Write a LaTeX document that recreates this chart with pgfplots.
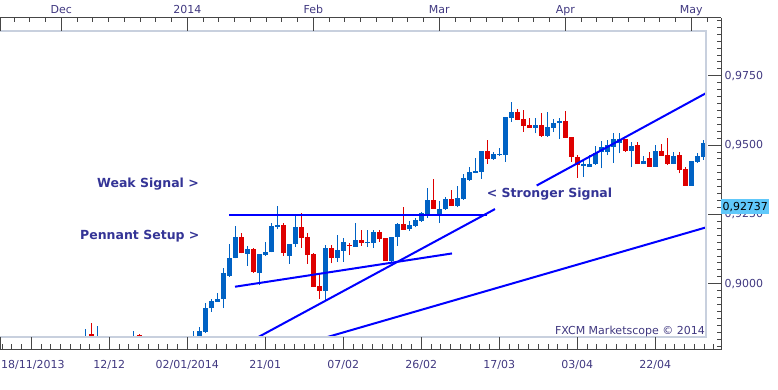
\documentclass[border=0pt]{standalone}
\usepackage{pgfplots}
\usepackage{pgfplotstable}
\pgfplotsset{compat=1.18}
\usepackage{fontspec}
\setmainfont{DejaVu Sans}
\definecolor{cblue}{RGB}{0,98,196}
\definecolor{cred}{RGB}{222,0,0}
\definecolor{tline}{RGB}{0,0,255}
\definecolor{framecol}{RGB}{200,208,222}
\definecolor{axcol}{RGB}{70,70,70}
\definecolor{labcol}{RGB}{64,56,128}
\definecolor{anncol}{RGB}{52,52,150}
\definecolor{hlcol}{RGB}{96,200,250}

% x = trading-day index (0 = 18/11/2013), o h l c = open high low close
\pgfplotstableread{
x o h l c
14 0.8779 0.8836 0.8761 0.8797
16 0.8775 0.8847 0.8761 0.8797
22 0.8793 0.8829 0.8775 0.8812
32 0.8786 0.8830 0.8768 0.8806
33 0.8797 0.8845 0.8782 0.8829
34 0.8827 0.8931 0.8823 0.8913
35 0.8911 0.8944 0.8899 0.8938
36 0.8935 0.8967 0.8935 0.8946
37 0.8944 0.9057 0.8912 0.9039
38 0.9029 0.9142 0.9025 0.9092
39 0.9093 0.9208 0.9091 0.9168
41 0.9107 0.9136 0.9064 0.9125
43 0.9037 0.9108 0.8995 0.9107
44 0.9103 0.9150 0.9101 0.9114
45 0.9113 0.9217 0.9113 0.9209
46 0.9206 0.9280 0.9196 0.9212
48 0.9101 0.9143 0.9071 0.9143
49 0.9143 0.9248 0.9133 0.9204
54 0.8975 0.9138 0.8941 0.9128
56 0.9094 0.9174 0.9079 0.9121
57 0.9118 0.9165 0.9079 0.9150
59 0.9133 0.9220 0.9133 0.9158
61 0.9148 0.9194 0.9132 0.9152
62 0.9148 0.9194 0.9129 0.9186
65 0.9083 0.9169 0.9074 0.9168
66 0.9168 0.9218 0.9137 0.9215
68 0.9197 0.9226 0.9190 0.9212
69 0.9208 0.9236 0.9203 0.9230
70 0.9227 0.9260 0.9224 0.9255
71 0.9251 0.9344 0.9236 0.9302
73 0.9251 0.9298 0.9218 0.9269
74 0.9269 0.9314 0.9266 0.9305
76 0.9280 0.9351 0.9275 0.9308
77 0.9306 0.9394 0.9303 0.9380
78 0.9374 0.9422 0.9371 0.9404
79 0.9400 0.9453 0.9398 0.9406
80 0.9404 0.9479 0.9378 0.9479
82 0.9450 0.9476 0.9446 0.9467
83 0.9464 0.9491 0.9461 0.9467
84 0.9464 0.9602 0.9440 0.9602
85 0.9599 0.9656 0.9583 0.9620
89 0.9562 0.9596 0.9542 0.9572
91 0.9533 0.9619 0.9530 0.9565
92 0.9563 0.9593 0.9548 0.9581
93 0.9578 0.9596 0.9521 0.9588
97 0.9424 0.9446 0.9386 0.9432
98 0.9422 0.9464 0.9422 0.9432
99 0.9432 0.9497 0.9428 0.9472
100 0.9476 0.9515 0.9416 0.9494
101 0.9476 0.9518 0.9464 0.9500
102 0.9492 0.9542 0.9436 0.9522
103 0.9506 0.9544 0.9470 0.9522
105 0.9480 0.9512 0.9420 0.9498
107 0.9431 0.9462 0.9431 0.9444
109 0.9422 0.9500 0.9422 0.9479
112 0.9432 0.9476 0.9432 0.9460
115 0.9353 0.9442 0.9353 0.9442
116 0.9440 0.9472 0.9436 0.9460
117 0.9458 0.9518 0.9446 0.9506
}\upcandles

\pgfplotstableread{
x o h l c
15 0.8819 0.8859 0.8768 0.8790
17 0.8801 0.8811 0.8768 0.8783
23 0.8815 0.8817 0.8779 0.8797
40 0.9168 0.9183 0.9109 0.9109
42 0.9125 0.9129 0.9040 0.9042
47 0.9212 0.9220 0.9101 0.9110
50 0.9204 0.9255 0.9129 0.9166
51 0.9167 0.9184 0.9071 0.9105
52 0.9107 0.9109 0.8988 0.8989
53 0.8991 0.9037 0.8945 0.8975
55 0.9128 0.9140 0.9073 0.9094
58 0.9141 0.9147 0.9103 0.9135
60 0.9158 0.9194 0.9136 0.9148
63 0.9186 0.9194 0.9151 0.9160
64 0.9165 0.9165 0.9083 0.9083
67 0.9215 0.9275 0.9194 0.9194
72 0.9302 0.9377 0.9270 0.9270
75 0.9305 0.9338 0.9281 0.9281
81 0.9479 0.9518 0.9432 0.9450
86 0.9620 0.9629 0.9590 0.9590
87 0.9594 0.9626 0.9548 0.9570
88 0.9572 0.9596 0.9562 0.9562
90 0.9572 0.9614 0.9530 0.9533
94 0.9587 0.9623 0.9526 0.9526
95 0.9528 0.9528 0.9440 0.9456
96 0.9458 0.9464 0.9382 0.9428
104 0.9522 0.9522 0.9476 0.9479
106 0.9500 0.9512 0.9431 0.9431
108 0.9452 0.9476 0.9422 0.9422
110 0.9479 0.9504 0.9462 0.9462
111 0.9464 0.9524 0.9428 0.9432
113 0.9464 0.9476 0.9398 0.9410
114 0.9414 0.9422 0.9353 0.9353
}\downcandles

\begin{document}
\begin{tikzpicture}[x=1pt,y=1pt]
\path[use as bounding box] (0pt,0pt) rectangle (778pt,390pt);

% ---- data area ----
\begin{axis}[at={(0pt,52.8pt)}, anchor=south west, scale only axis,
  width=706pt, height=306.4pt,
  xmin=-0.2167, xmax=117.45, ymin=0.88070, ymax=0.99119,
  hide axis, clip=true]
% wicks
\addplot[draw=none, mark=none, forget plot, error bars/.cd, y dir=plus, y explicit,
  error mark=none, error bar style={draw=cblue, line width=1pt}]
  table[x=x, y=l, y error plus expr={\thisrow{h}-\thisrow{l}}] {\upcandles};
\addplot[draw=none, mark=none, forget plot, error bars/.cd, y dir=plus, y explicit,
  error mark=none, error bar style={draw=cred, line width=1pt}]
  table[x=x, y=l, y error plus expr={\thisrow{h}-\thisrow{l}}] {\downcandles};
% bodies
\addplot[draw=none, mark=none, forget plot, error bars/.cd, y dir=plus, y explicit,
  error mark=none, error bar style={draw=cblue, line width=5pt}]
  table[x=x, y=o, y error plus expr={\thisrow{c}-\thisrow{o}}] {\upcandles};
\addplot[draw=none, mark=none, forget plot, error bars/.cd, y dir=plus, y explicit,
  error mark=none, error bar style={draw=cred, line width=5pt}]
  table[x=x, y=c, y error plus expr={\thisrow{o}-\thisrow{c}}] {\downcandles};
% trend lines
\addplot[tline, line width=2pt, mark=none] coordinates {(38.0,0.9249) (80.9,0.9249)};
\addplot[tline, line width=2pt, mark=none] coordinates {(38.95,0.8989) (75.12,0.9109)};
\addplot[tline, line width=2pt, mark=none] coordinates {(42.28,0.8801) (82.28,0.9269)};
\addplot[tline, line width=2pt, mark=none] coordinates {(89.23,0.9354) (117.62,0.9689)};
\addplot[tline, line width=2pt, mark=none] coordinates {(53.45,0.8802) (117.62,0.9204)};
\end{axis}

% inner frame
\draw[framecol, line width=2pt] (0,359.2) -- (706,359.2) -- (706,52.8) -- (0,52.8);
\draw[axcol, line width=1pt] (0.5,372) -- (0.5,359.2);
\draw[axcol, line width=1pt] (0.5,40) -- (0.5,52.8);

% ---- top and right scales ----
\begin{axis}[at={(0pt,40pt)}, anchor=south west, scale only axis,
  width=721pt, height=332pt,
  xmin=-0.2167, xmax=119.95, ymin=0.87608, ymax=0.99581,
  axis x line*=top, axis y line*=right,
  axis line style={-, draw=axcol, line width=1pt},
  tick align=inside, major tick length=13.5pt, minor tick length=4.5pt,
  every tick/.style={draw=axcol, line width=0.8pt},
  xtick={10,31,52,73,94,115}, xticklabels={Dec,2014,Feb,Mar,Apr,May},
  minor xtick={2.125,4.75,...,119},
  ytick={0.9,0.925,0.95,0.975},
  yticklabels={{0,9000},{0,9250},{0,9500},{0,9750}},
  minor ytick={0.8775,0.88,...,0.995},
  tick label style={font=\fontsize{11}{13}\selectfont, text=labcol},
  xticklabel style={anchor=base, yshift=4.7pt},
  yticklabel style={anchor=base west, yshift=-3.6pt},
  clip=false]
\node[anchor=west, fill=hlcol, inner xsep=1.3pt, inner ysep=0pt, minimum height=15pt,
  text=black, font=\fontsize{11}{13}\selectfont] at (axis cs:119.95,0.9277) {0,92737};
\end{axis}

% ---- bottom scale ----
\begin{axis}[at={(0pt,40pt)}, anchor=south west, scale only axis,
  width=721pt, height=332pt,
  xmin=-0.2167, xmax=119.95, ymin=0, ymax=1,
  axis x line*=bottom, axis y line=none, ytick=\empty,
  axis line style={-, draw=axcol, line width=1pt},
  tick align=inside, major tick length=13pt, minor tick length=6pt,
  every tick/.style={draw=axcol, line width=0.8pt},
  xtick={5,18,31,44,57,70,83,96,109},
  xticklabels={,12/12,02/01/2014,21/01,07/02,26/02,17/03,03/04,22/04},
  minor xtick={0.125,1.75,...,119.5},
  tick label style={font=\fontsize{11}{13}\selectfont, text=labcol},
  xticklabel style={anchor=base, yshift=-18.3pt},
  clip=false]
\end{axis}

\node[anchor=base west, inner sep=0pt, font=\fontsize{11}{13}\selectfont, text=labcol] at (1,21.7) {18/11/2013};
\node[anchor=base east, inner sep=0pt, font=\fontsize{11}{13}\selectfont, text=labcol] at (705,55) {FXCM Marketscope © 2014};

\node[anchor=base west, inner sep=0pt, font=\fontsize{12.5}{15}\selectfont\bfseries, text=anncol] at (97,202) {Weak Signal >};
\node[anchor=base west, inner sep=0pt, font=\fontsize{12.5}{15}\selectfont\bfseries, text=anncol] at (80,150) {Pennant Setup >};
\node[anchor=base west, inner sep=0pt, font=\fontsize{12.5}{15}\selectfont\bfseries, text=anncol] at (486.7,192) {< Stronger Signal};
\end{tikzpicture}
\end{document}
